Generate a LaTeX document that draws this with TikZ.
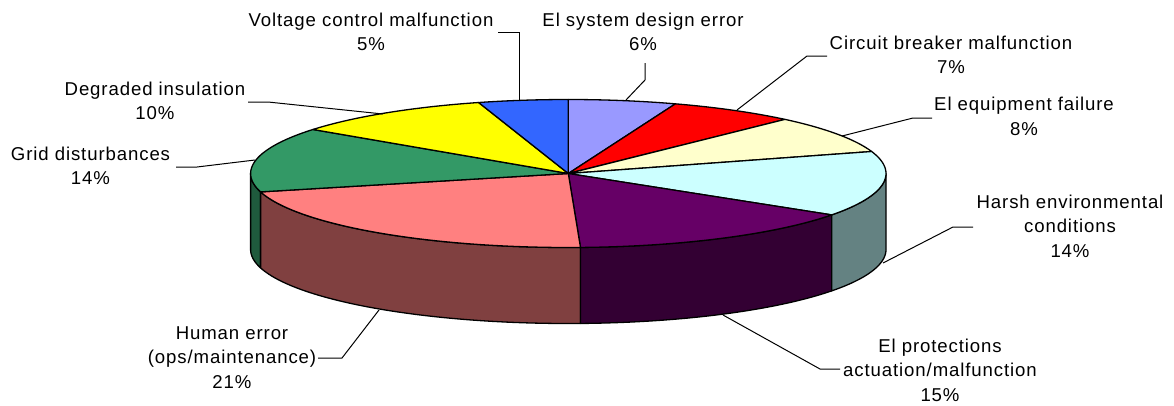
\documentclass[tikz,border=0pt]{standalone}
\usepackage{fontspec}
\setmainfont{Liberation Sans}[LetterSpace=4.8]
\usetikzlibrary{calc}

% pie geometry (top face centre, radii, thickness)
\def\cx{568.3}
\def\cy{173.5}
\def\rx{317.7}
\def\ry{74}
\def\dep{76}

\definecolor{cSys}{HTML}{9999FF}
\definecolor{cCB}{HTML}{FF0000}
\definecolor{cEq}{HTML}{FFFFCC}
\definecolor{cHarsh}{HTML}{CCFFFF}
\definecolor{cProt}{HTML}{660066}
\definecolor{cHuman}{HTML}{FF8080}
\definecolor{cGrid}{HTML}{339966}
\definecolor{cIns}{HTML}{FFFF00}
\definecolor{cVolt}{HTML}{3366FF}
\definecolor{sHarsh}{HTML}{648282}
\definecolor{sProt}{HTML}{330033}
\definecolor{sHuman}{HTML}{804040}
\definecolor{sGrid}{HTML}{1F5A3D}

% top-face wedge between two angles (clockwise from 12 o'clock)
\newcommand\topwedge[3]{%
  \filldraw[wedge,fill=#1] (C) -- plot[domain=#2:#3,samples=60,variable=\t]
    ({\cx+\rx*sin(\t)},{\cy-\ry*cos(\t)}) -- cycle;}
% visible rim band between two angles
\newcommand\rimband[3]{%
  \filldraw[wedge,fill=#1] plot[domain=#2:#3,samples=60,variable=\t]
    ({\cx+\rx*sin(\t)},{\cy-\ry*cos(\t)})
    -- plot[domain=#3:#2,samples=60,variable=\t]
    ({\cx+\rx*sin(\t)},{\cy+\dep-\ry*cos(\t)}) -- cycle;}

\begin{document}
\begin{tikzpicture}[x=1pt,y=-1pt,
  wedge/.style={draw=black,line width=1.3pt,line join=round},
  leader/.style={draw=black,line width=1pt},
  lbl/.style={anchor=base,inner sep=0pt,font=\fontsize{18.6}{24.5}\selectfont}]
\useasboundingbox (0,0) rectangle (1174,405);
\fill[white] (0,0) rectangle (1174,405);

\coordinate (C) at (\cx,\cy);

% side of the disc
\rimband{sGrid}{255.6}{270}
\rimband{sHuman}{177.8}{255.6}
\rimband{sProt}{124}{177.8}
\rimband{sHarsh}{90}{124}

% top face
\topwedge{cSys}{0}{19.7}
\topwedge{cCB}{19.7}{43}
\topwedge{cEq}{43}{72.7}
\topwedge{cHarsh}{72.7}{124}
\topwedge{cProt}{124}{177.8}
\topwedge{cHuman}{177.8}{255.6}
\topwedge{cGrid}{255.6}{306.5}
\topwedge{cIns}{306.5}{343.6}
\topwedge{cVolt}{343.6}{360}

% labels
\node[lbl] (lVolt) at (371,26) {\begin{tabular}[t]{@{}c@{}}Voltage control malfunction\\5\%\end{tabular}};
\node[lbl] (lSys) at (643,26) {\begin{tabular}[t]{@{}c@{}}El system design error\\6\%\end{tabular}};
\node[lbl] (lCB) at (951,49) {\begin{tabular}[t]{@{}c@{}}Circuit breaker malfunction\\7\%\end{tabular}};
\node[lbl] (lEq) at (1024,110.7) {\begin{tabular}[t]{@{}c@{}}El equipment failure\\8\%\end{tabular}};
\node[lbl] (lHarsh) at (1070,208) {\begin{tabular}[t]{@{}c@{}}Harsh environmental\\conditions\\14\%\end{tabular}};
\node[lbl] (lProt) at (940,352) {\begin{tabular}[t]{@{}c@{}}El protections\\actuation/malfunction\\15\%\end{tabular}};
\node[lbl] (lHuman) at (232,339) {\begin{tabular}[t]{@{}c@{}}Human error\\(ops/maintenance)\\21\%\end{tabular}};
\node[lbl] (lIns) at (155,95) {\begin{tabular}[t]{@{}c@{}}Degraded insulation\\10\%\end{tabular}};
\node[lbl] (lGrid) at (90.5,160) {\begin{tabular}[t]{@{}c@{}}Grid disturbances\\14\%\end{tabular}};

% leader lines
\coordinate (a0) at (498,32);  \coordinate (a1) at (519,32);  \coordinate (a2) at (519,100);
\coordinate (b0) at (645,63);  \coordinate (b1) at (645,80);  \coordinate (b2) at (626,100);
\coordinate (c0) at (827,56);  \coordinate (c1) at (807,56);  \coordinate (c2) at (737,110);
\coordinate (d0) at (932,118); \coordinate (d1) at (913,118); \coordinate (d2) at (842,136);
\coordinate (e0) at (973,227); \coordinate (e1) at (953,227); \coordinate (e2) at (883,263);
\coordinate (f0) at (840,369); \coordinate (f1) at (820,369); \coordinate (f2) at (723,315);
\coordinate (g0) at (318,358); \coordinate (g1) at (342,358); \coordinate (g2) at (379,310);
\coordinate (h0) at (248,102); \coordinate (h1) at (268,102); \coordinate (h2) at (383,114);
\coordinate (i0) at (176,167); \coordinate (i1) at (197,167); \coordinate (i2) at (255,160);
\foreach \p in {a,b,c,d,e,f,g,h,i}{\draw[leader] (\p0) -- (\p1) -- (\p2);}
\end{tikzpicture}
\end{document}
